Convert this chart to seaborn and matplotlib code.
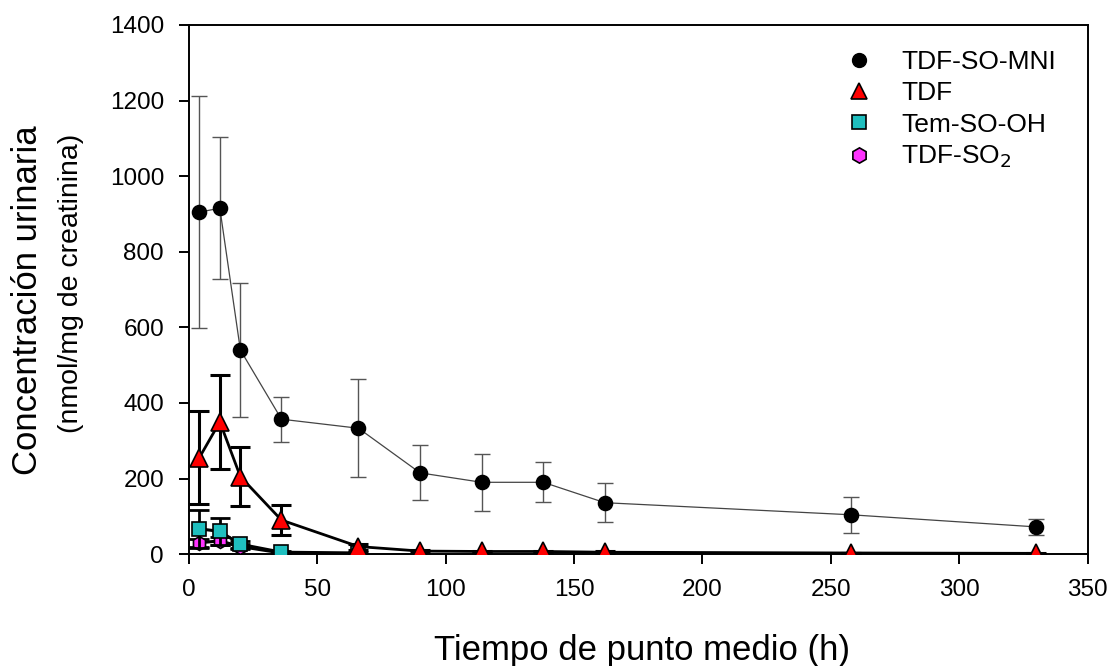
import matplotlib.pyplot as plt
import matplotlib.lines as mlines
import pandas as pd
import seaborn as sns

# midpoint times (h)
time_mni = [4, 12, 20, 36, 66, 90, 114, 138, 162, 258, 330]
mni_mean = [905, 915, 540, 357, 333, 215, 190, 190, 136, 104, 72]
mni_err = [308, 188, 177, 60, 130, 73, 75, 53, 52, 48, 21]

time_tdf = [4, 12, 20, 36, 66, 90, 114, 138, 162, 258, 330]
tdf_mean = [255, 350, 205, 90, 20, 8, 7, 7, 5, 3, 2]
tdf_err = [123, 125, 78, 40, 8, 3, 2, 2, 2, 1, 1]

time_oh = [4, 12, 20, 36, 66]
oh_mean = [67, 60, 26, 5, 3]
oh_err = [50, 35, 10, 3, 2]

time_so2 = [4, 12, 20, 36]
so2_mean = [30, 35, 20, 3]
so2_err = [10, 10, 6, 2]

labels = ["TDF-SO-MNI", "TDF", "Tem-SO-OH", "TDF-SO$_2$"]

sns.set_style("ticks")
plt.rcParams["font.family"] = ["Liberation Sans", "DejaVu Sans"]
for key in ["text.color", "axes.labelcolor", "xtick.color", "ytick.color"]:
    plt.rcParams[key] = "black"

fig = plt.figure(figsize=(11.12, 6.66), dpi=100)
ax = fig.add_axes([0.170, 0.168, 0.808, 0.7945])

series = [
    # times, mean, err, marker, face, size, line width, line color, err color, err width, cap, z
    (time_mni, mni_mean, mni_err, "o", "black", 10, 0.9, "#444444", "#555555", 1.0, 6, 3),
    (time_so2, so2_mean, so2_err, "h", "#ff33ff", 10, 2.2, "black", "black", 2.0, 7, 4),
    (time_oh, oh_mean, oh_err, "s", "#1fbfbf", 10, 2.2, "black", "black", 2.0, 7, 5),
    (time_tdf, tdf_mean, tdf_err, "^", "#ff0000", 13, 2.0, "black", "black", 2.2, 7, 6),
]

for t, m, e, mk, fc, ms, lw, lc, ec, ew, cap, z in series:
    df = pd.DataFrame({"t": t, "m": m})
    ax.errorbar(t, m, yerr=e, fmt="none", ecolor=ec, elinewidth=ew,
                capsize=cap, capthick=ew, zorder=z - 0.5)
    sns.lineplot(data=df, x="t", y="m", ax=ax, color=lc, linewidth=lw,
                 marker=mk, markersize=ms, markerfacecolor=fc,
                 markeredgecolor="black", markeredgewidth=1.2, zorder=z)

ax.set_xlim(0, 350)
ax.set_ylim(0, 1400)
ax.set_xticks(range(0, 351, 50))
ax.set_yticks(range(0, 1401, 200))
ax.tick_params(axis="both", direction="out", length=7, width=1.4,
               labelsize=17.5, pad=11, top=False, right=False)
for s in ax.spines.values():
    s.set_linewidth(1.4)
    s.set_color("black")
ax.set_xlabel("")
ax.set_ylabel("")

fig.text(0.577, 0.024, "Tiempo de punto medio (h)", ha="center", va="center", fontsize=25)
fig.text(0.025, 0.55, "Concentración urinaria", rotation=90, ha="center", va="center", fontsize=25)
fig.text(0.064, 0.574, "(nmol/mg de creatinina)", rotation=90, ha="center", va="center", fontsize=20.5)

handles = [
    mlines.Line2D([], [], linestyle="none", marker="o", markersize=10,
                  markerfacecolor="black", markeredgecolor="black"),
    mlines.Line2D([], [], linestyle="none", marker="^", markersize=12,
                  markerfacecolor="#ff0000", markeredgecolor="black", markeredgewidth=1.2),
    mlines.Line2D([], [], linestyle="none", marker="s", markersize=10,
                  markerfacecolor="#1fbfbf", markeredgecolor="black", markeredgewidth=1.2),
    mlines.Line2D([], [], linestyle="none", marker="h", markersize=11,
                  markerfacecolor="#ff33ff", markeredgecolor="black", markeredgewidth=1.2),
]
ax.legend(handles, labels, loc="upper left", bbox_to_anchor=(0.69, 0.998),
          frameon=False, fontsize=19, handletextpad=0.6, labelspacing=0.28)

fig.savefig("out.png", dpi=100)
